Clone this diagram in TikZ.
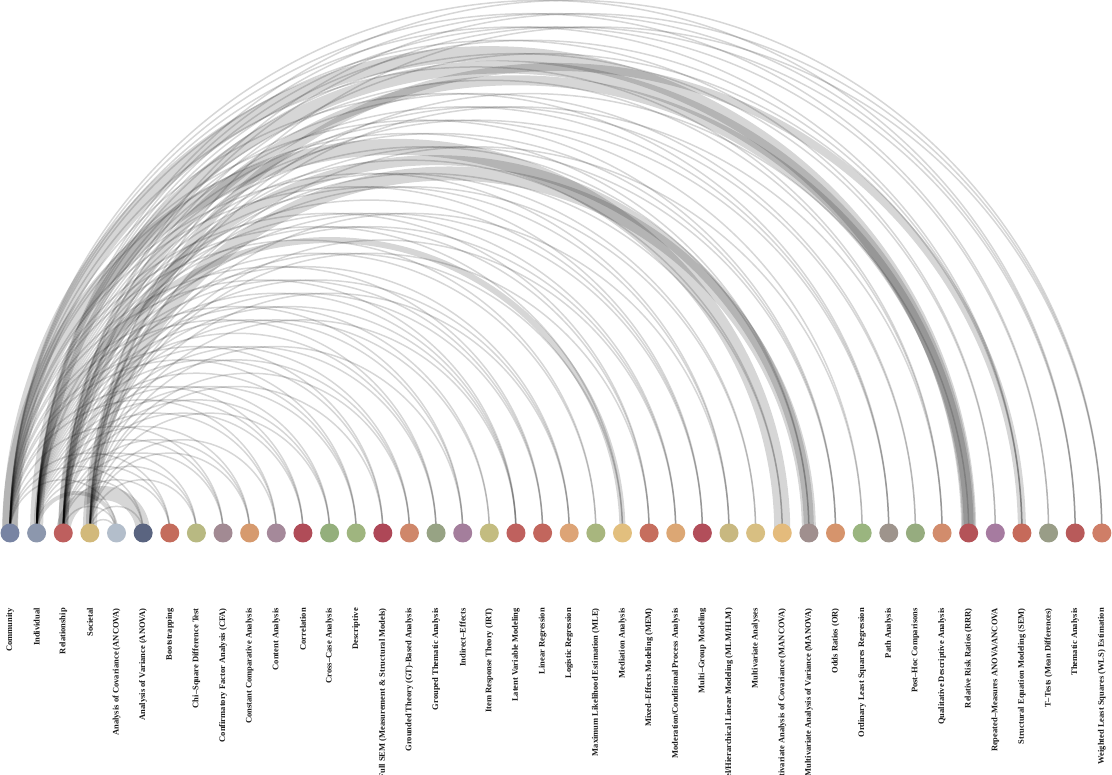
\documentclass[tikz,border=0pt]{standalone}
\usepackage{fontspec}
\setmainfont{Liberation Serif}
\usetikzlibrary{calc,backgrounds}
\tikzset{
  dot/.style={circle,inner sep=0pt,minimum size=19pt},
  lbl/.style={font=\fontsize{8.5}{10}\selectfont\bfseries,text=black!90,rotate=90,anchor=east,inner sep=0pt},
  link/.style={draw=black,draw opacity=0.16,line width=1.5pt},
}

\begin{document}
\begin{tikzpicture}[x=1pt,y=1pt]
  \useasboundingbox (0,0) rectangle (1112,775);
  % levels and methods along the baseline
  \foreach \i/\col/\txt in {0/7884A3/Community, 1/8C97AD/Individual, 2/BE5F5E/Relationship,
      3/D2B97B/Societal, 4/B3BECB/{Analysis of Covariance (ANCOVA)}, 5/5A6480/{Analysis of Variance (ANOVA)},
      6/C46C5C/Bootstrapping, 7/B8B982/{Chi--Square Difference Test}, 8/A28A93/{Confirmatory Factor Analysis (CFA)},
      9/D69A6E/{Constant Comparative Analysis}, 10/A5899A/{Content Analysis}, 11/B04C58/Correlation,
      12/94AF7C/{Cross--Case Analysis}, 13/9FB57F/Descriptive, 14/AE4757/{Full SEM (Measurement \& Structural Models)},
      15/CF876A/{Grounded Theory (GT)-Based Analysis}, 16/97A384/{Grouped Thematic Analysis}, 17/A47E9C/{Indirect--Effects},
      18/C3BC80/{Item Response Theory (IRT)}, 19/BF615E/{Latent Variable Modeling}, 20/C2665D/{Linear Regression},
      21/DDA476/{Logistic Regression}, 22/A8B67E/{Maximum Likelihood Estimation (MLE)}, 23/E2BF7E/{Mediation Analysis},
      24/C66E5E/{Mixed--Effects Modeling (MEM)}, 25/DCA774/{Moderation/Conditional Process Analysis},
      26/B24E5A/{Multi--Group Modeling}, 27/C8B880/{Multilevel/Hierarchical Linear Modeling (MLM/HLM)},
      28/D8BF82/{Multivariate Analyses}, 29/E4BB7C/{Multivariate Analysis of Covariance (MANCOVA)},
      30/A08F8E/{Multivariate Analysis of Variance (MANOVA)}, 31/D6946C/{Odds Ratios (OR)},
      32/9AB57F/{Ordinary Least Squares Regression}, 33/9E948C/{Path Analysis}, 34/96AC7F/{Post--Hoc Comparisons},
      35/D28C6C/{Qualitative Descriptive Analysis}, 36/B45358/{Relative Risk Ratios (RRR)},
      37/A67BA0/{Repeated--Measures ANOVA/ANCOVA}, 38/C66A5A/{Structural Equation Modeling (SEM)},
      39/999D87/{T--Tests (Mean Differences)}, 40/B85A5A/{Thematic Analysis},
      41/CF7E67/{Weighted Least Squares (WLS) Estimation}} {
    \edef\setcol{\noexpand\definecolor{nc}{HTML}{\col}}\setcol
    \pgfmathsetmacro{\xx}{10+26.63*\i}
    \node[dot,fill=nc] (n\i) at (\xx,242) {};
    \node[lbl] (l\i) at (\xx,167) {\txt};
  }
  % arcs, level -> method, width = weight
  \begin{scope}[on background layer]
    \foreach \s/\t/\w in {0/4/1.5, 1/4/4, 2/4/1.5, 3/4/1.5, 0/5/1.5, 1/5/1.5, 3/5/1.5, 2/5/14,
        0/6/1.5, 1/6/1.5, 2/6/1.5, 1/7/1.5, 2/7/1.5, 3/7/1.5, 0/8/1.5, 1/8/1.5, 2/8/1.5,
        1/9/1.5, 2/9/1.5, 3/9/1.5, 0/10/1.5, 1/10/1.5, 3/10/1.5, 0/11/1.5, 1/11/1.5, 2/11/1.5,
        1/12/1.5, 2/12/1.5, 3/12/1.5, 0/13/1.5, 1/13/1.5, 2/13/1.5, 0/14/1.5, 1/14/1.5, 3/14/1.5,
        1/15/1.5, 2/15/1.5, 3/15/1.5, 0/16/1.5, 1/16/1.5, 2/16/1.5, 0/17/1.5, 1/17/1.5, 3/17/1.5,
        1/18/1.5, 2/18/1.5, 0/19/1.5, 1/19/1.5, 2/19/1.5, 3/19/1.5, 0/20/1.5, 1/20/1.5, 2/20/1.5,
        1/21/1.5, 2/21/1.5, 3/21/1.5, 0/22/1.5, 1/22/1.5, 0/23/1.5, 2/23/1.5, 1/23/6,
        0/24/1.5, 1/24/1.5, 3/24/1.5, 1/25/1.5, 2/25/1.5, 3/25/1.5, 0/26/1.5, 1/26/1.5, 2/26/1.5,
        0/27/1.5, 1/27/1.5, 3/27/1.5, 1/28/1.5, 2/28/1.5, 1/29/1.5, 2/29/1.5, 0/29/16,
        0/30/1.5, 1/30/1.5, 3/30/14, 2/30/10, 0/31/1.5, 1/31/1.5, 2/31/1.5, 1/32/1.5, 3/32/1.5,
        0/33/1.5, 1/33/1.5, 2/33/1.5, 1/34/1.5, 2/34/1.5, 0/35/1.5, 1/35/1.5, 3/35/1.5,
        0/36/15, 1/36/13, 2/36/10, 3/36/1.5, 0/37/1.5, 1/37/1.5, 0/38/1.5, 1/38/1.5, 2/38/1.5, 3/38/8,
        0/39/1.5, 1/39/1.5, 0/40/1.5, 1/40/1.5, 2/40/1.5, 1/41/1.5, 2/41/1.5, 3/41/1.5} {
      \draw[link,line width=\w pt] let \p1=(n\s.center), \p2=(n\t.center) in
        (\p1) arc[start angle=180,end angle=0,radius={(\x2-\x1)/2}];
    }
  \end{scope}
\end{tikzpicture}
\end{document}
